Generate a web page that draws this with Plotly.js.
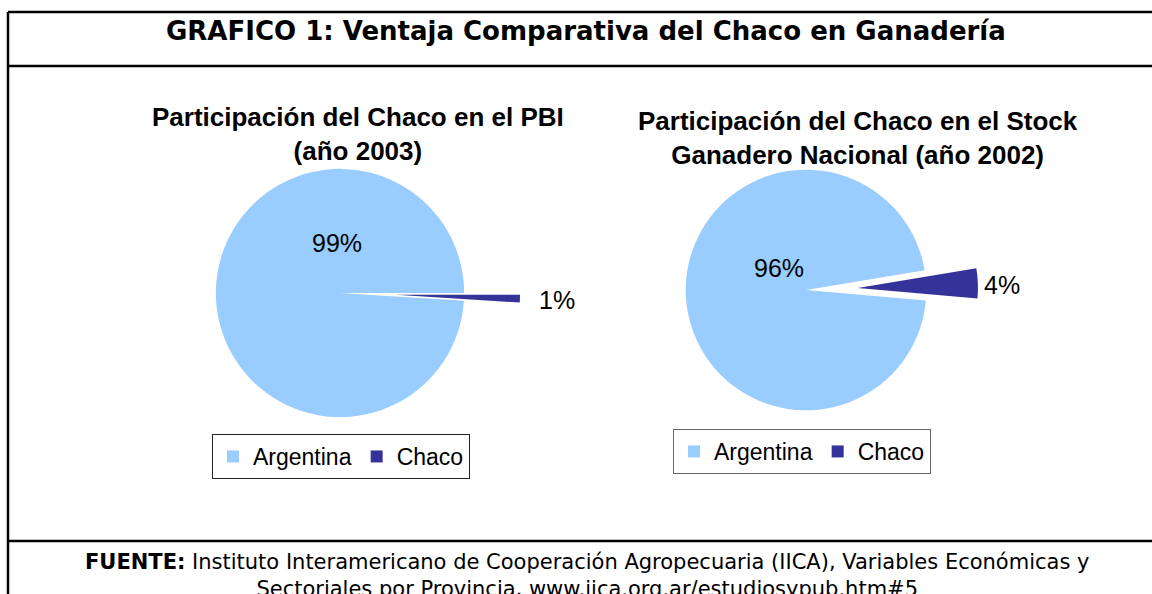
<!DOCTYPE html>
<html>
<head>
<meta charset="utf-8">
<script src="https://cdn.plot.ly/plotly-3.0.1.min.js"></script>
<style>
html,body{margin:0;padding:0;background:#fff;}
#wrap{position:relative;width:1152px;height:594px;overflow:hidden;}
#chart,#chart2{position:absolute;left:0;top:0;width:1152px;height:594px;}
</style>
</head>
<body>
<div id="wrap">
  <div id="chart"></div>
  <div id="chart2"></div>
</div>
<script>
// ---- data ----
var categories = ["Argentina", "Chaco"];
var pbiValues = [99, 1];            // Participación en el PBI (año 2003), %
var stockValues = [96, 4];          // Participación en el stock ganadero (año 2002), %
var sliceColors = ["#99CCFF", "#333399"];
var mainTitle = "GRAFICO 1: Ventaja Comparativa del Chaco en Ganadería";
var pbiTitle = "Participación del Chaco en el PBI<br>(año 2003)";
var stockTitle = "Participación del Chaco en el Stock<br>Ganadero Nacional (año 2002)";
var sourceLabel = "FUENTE:";
var sourceText = "Instituto Interamericano de Cooperación Agropecuaria (IICA), Variables Económicas y<br>Sectoriales por Provincia, www.iica.org.ar/estudiosypub.htm#5";

var W = 1152, H = 594;
function px(x){ return x / W; }
function py(y){ return 1 - y / H; }

var arial = "Liberation Sans, Arial, sans-serif";
var tahoma = "DejaVu Sans, Verdana, sans-serif";

var pie1 = {
  type: "pie",
  labels: categories,
  values: pbiValues,
  marker: {colors: sliceColors, line: {width: 0}},
  pull: [0, 0.45],
  sort: false,
  direction: "counterclockwise",
  rotation: 93.6,
  textinfo: "none",
  hoverinfo: "label+percent",
  domain: {x: [px(340-180), px(340+180)], y: [py(293+180), py(293-180)]}
};
var pie2 = {
  type: "pie",
  labels: categories,
  values: stockValues,
  marker: {colors: sliceColors, line: {width: 0}},
  pull: [0, 0.43],
  sort: false,
  direction: "counterclockwise",
  rotation: 95,
  textinfo: "none",
  hoverinfo: "label+percent",
  domain: {x: [px(806-172), px(806+172)], y: [py(290+172), py(290-172)]}
};

function pctLabel(v){ return v + "%"; }
var labelFont = {family: arial, size: 25, color: "#000"};
function ann(text, x, y, font, extra){
  var a = {text: text, x: px(x), y: py(y), xref: "paper", yref: "paper",
           xanchor: "center", yanchor: "middle", showarrow: false, font: font};
  if (extra) for (var k in extra) a[k] = extra[k];
  return a;
}

var annotations1 = [
  ann("<b>" + mainTitle + "</b>", 586, 31, {family: tahoma, size: 26, color: "#000"}),
  ann("<b>" + pbiTitle + "</b>", 358, 134, {family: arial, size: 26, color: "#000"}),
  ann("<b>" + stockTitle + "</b>", 858, 138, {family: arial, size: 26, color: "#000"}),
  ann(pctLabel(pbiValues[0]), 337, 243, labelFont),
  ann(pctLabel(pbiValues[1]), 557, 300, labelFont),
  ann("<b>" + sourceLabel + "</b> " + sourceText, 587, 548, {family: tahoma, size: 21, color: "#000"},
      {yanchor: "top"})
];
var annotations2 = [
  ann(pctLabel(stockValues[0]), 779, 268, labelFont),
  ann(pctLabel(stockValues[1]), 1002, 285, labelFont)
];

var lineStyle = {color: "#000", width: 2.5};
var shapes = [
  {type: "line", xref: "paper", yref: "paper", x0: px(8), x1: px(8), y0: py(12), y1: py(600), line: lineStyle},
  {type: "line", xref: "paper", yref: "paper", x0: px(8), x1: px(1160), y0: py(12), y1: py(12), line: lineStyle},
  {type: "line", xref: "paper", yref: "paper", x0: px(8), x1: px(1160), y0: py(66), y1: py(66), line: lineStyle},
  {type: "line", xref: "paper", yref: "paper", x0: px(8), x1: px(1160), y0: py(541), y1: py(541), line: lineStyle}
];

var legendFont = {family: arial, size: 23, color: "#000"};

var layout1 = {
  width: W, height: H,
  margin: {l: 0, r: 0, t: 0, b: 0},
  paper_bgcolor: "#fff",
  plot_bgcolor: "#fff",
  showlegend: true,
  legend: {orientation: "h", x: px(212), y: py(434), xanchor: "left", yanchor: "top",
           bordercolor: "#222", borderwidth: 1, font: legendFont, bgcolor: "#fff",
           itemwidth: 30},
  annotations: annotations1,
  shapes: shapes
};

var layout2 = {
  width: W, height: H,
  margin: {l: 0, r: 0, t: 0, b: 0},
  paper_bgcolor: "rgba(0,0,0,0)",
  plot_bgcolor: "rgba(0,0,0,0)",
  showlegend: true,
  legend: {orientation: "h", x: px(673), y: py(429), xanchor: "left", yanchor: "top",
           bordercolor: "#666", borderwidth: 1, font: legendFont, bgcolor: "#fff",
           itemwidth: 30},
  annotations: annotations2
};

var cfg = {displayModeBar: false, staticPlot: true};
Plotly.newPlot("chart", [pie1], layout1, cfg);
Plotly.newPlot("chart2", [pie2], layout2, cfg);
</script>
</body>
</html>
